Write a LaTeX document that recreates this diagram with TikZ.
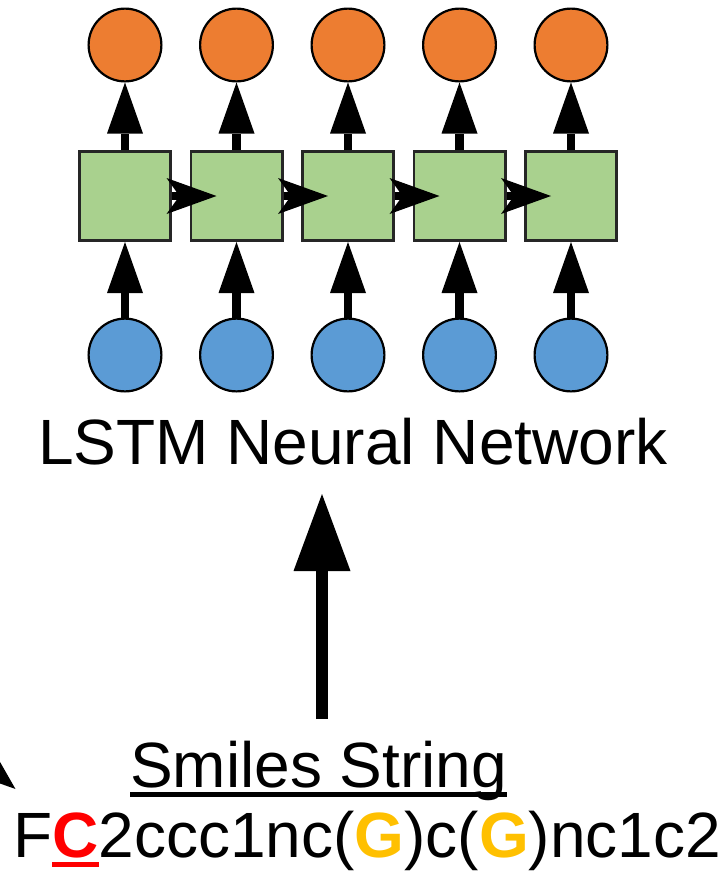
\documentclass[tikz,border=0pt]{standalone}
\usepackage{fontspec}
\setmainfont{Liberation Sans}
\usetikzlibrary{arrows.meta}
\definecolor{corange}{HTML}{ED7D31}
\definecolor{cgreen}{HTML}{A9D18E}
\definecolor{cblue}{HTML}{5B9BD5}
\definecolor{cgold}{HTML}{FFC000}
\definecolor{cred}{HTML}{FF0000}
\newcommand\myul[1]{\setbox0\hbox{#1}\rlap{\rule[-10pt]{\wd0}{5pt}}\box0}
\begin{document}
\begin{tikzpicture}[x=1pt,y=-1pt,
  outc/.style={circle,draw=black,line width=2.2pt,fill=corange,minimum size=72.8pt,inner sep=0pt},
  inc/.style={circle,draw=black,line width=2.2pt,fill=cblue,minimum size=72.8pt,inner sep=0pt},
  cell/.style={rectangle,draw=black!85,line width=2.7pt,fill=cgreen,minimum width=91.3pt,minimum height=89.3pt,inner sep=0pt},
  uparrow/.style={line width=8.3pt,-{Triangle[length=51pt,width=36pt,line width=0pt]}},
  rarrow/.style={line width=8pt,-{Stealth[length=50pt,width=36pt,inset=13pt,line width=0pt]}},
  bigarrow/.style={line width=12.3pt,-{Triangle[length=77pt,width=57pt,line width=0pt]}},
  lbl/.style={inner sep=0pt,font=\fontsize{64}{72}\selectfont}]
\useasboundingbox (0,0) rectangle (726,871);
\begin{scope}
\clip (0,0) rectangle (726,871);
% columns
\foreach \i/\x in {1/125,2/236.5,3/348,4/459.5,5/571}{
  \node[outc] (o\i) at (\x,45) {};
  \node[cell] (c\i) at (\x,196) {};
  \node[inc]  (n\i) at (\x,355) {};
}
\foreach \i in {1,...,5}{
  \draw[uparrow] (c\i.north) -- (o\i.south);
  \draw[uparrow] (n\i.north) -- (c\i.south);
}
\foreach \i/\j in {1/2,2/3,3/4,4/5}{
  \draw[rarrow] (c\i.east) -- ([xshift=27pt]c\j.west);
}
% texts
\node[lbl,anchor=base west] (lstm) at (38,464) {LSTM Neural Network};
\node[lbl,anchor=base west] (sm) at (130,787) {\myul{Smiles String}};
\node[lbl,anchor=base west] (smi) at (13,857) {F{\color{cred}\bfseries\myul{C}}2ccc1nc({\color{cgold}\bfseries G})c({\color{cgold}\bfseries G})nc1c2};
% big arrow
\coordinate (aS) at (322,719);
\coordinate (aT) at (322,494);
\draw[bigarrow] (aS) -- (aT);
% partial arrow at left
\coordinate (lS) at (-61,725);
\coordinate (lT) at (15.5,789);
\draw[bigarrow] (lS) -- (lT);
\end{scope}
\end{tikzpicture}
\end{document}
